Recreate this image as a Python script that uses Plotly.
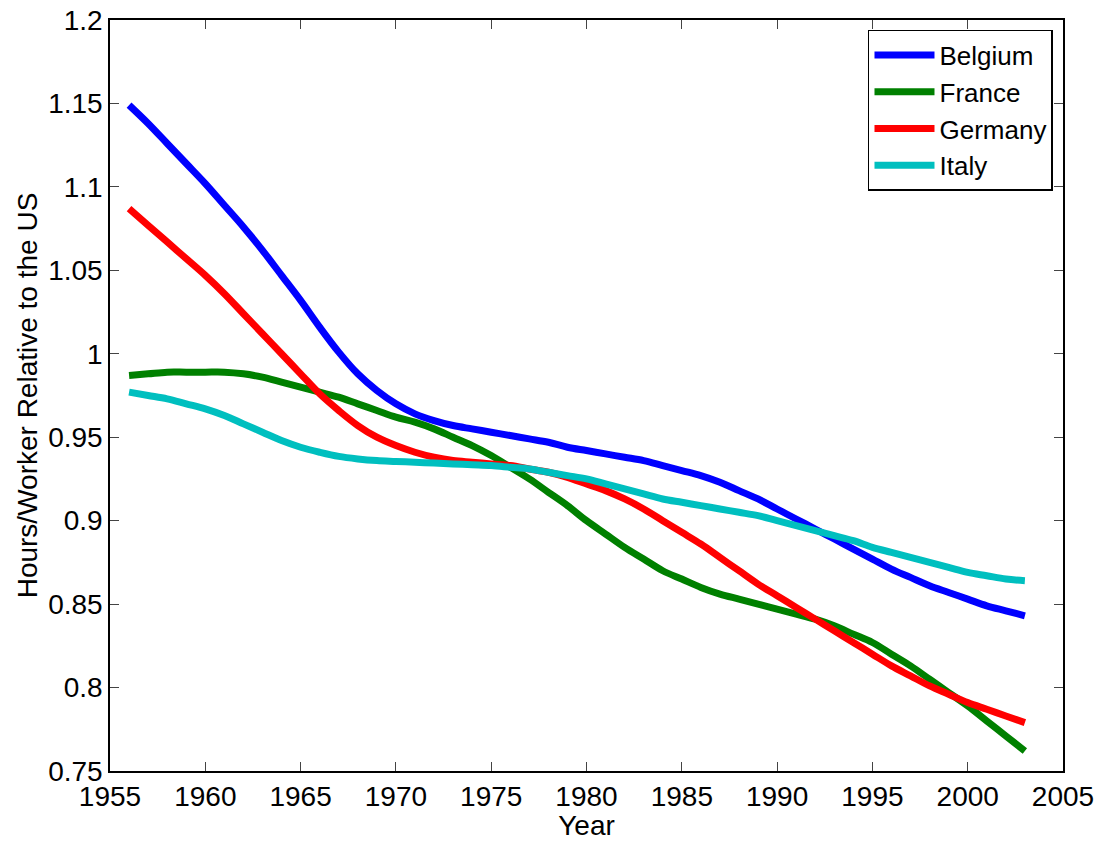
import plotly.graph_objects as go

years = list(range(1956, 2004))

belgium = [1.149, 1.138, 1.126, 1.114, 1.102, 1.089, 1.076, 1.062, 1.047, 1.032,
           1.016, 1.001, 0.988, 0.978, 0.970, 0.964, 0.960, 0.957, 0.955, 0.953,
           0.951, 0.949, 0.947, 0.944, 0.942, 0.940, 0.938, 0.936, 0.933, 0.930,
           0.927, 0.923, 0.918, 0.913, 0.907, 0.901, 0.895, 0.889, 0.883, 0.877,
           0.871, 0.866, 0.861, 0.857, 0.853, 0.849, 0.846, 0.843]

france = [0.987, 0.988, 0.989, 0.989, 0.989, 0.989, 0.988, 0.986, 0.983, 0.980,
          0.977, 0.974, 0.970, 0.966, 0.962, 0.959, 0.955, 0.950, 0.945, 0.939,
          0.932, 0.925, 0.917, 0.909, 0.900, 0.892, 0.884, 0.877, 0.870, 0.865,
          0.860, 0.856, 0.853, 0.850, 0.847, 0.844, 0.841, 0.837, 0.832, 0.827,
          0.820, 0.813, 0.805, 0.797, 0.789, 0.780, 0.771, 0.762]

germany = [1.087, 1.077, 1.067, 1.057, 1.047, 1.036, 1.024, 1.012, 1.000, 0.988,
           0.976, 0.966, 0.957, 0.950, 0.945, 0.941, 0.938, 0.936, 0.935, 0.934,
           0.933, 0.931, 0.929, 0.926, 0.922, 0.918, 0.913, 0.907, 0.900, 0.893,
           0.886, 0.878, 0.870, 0.862, 0.855, 0.848, 0.841, 0.834, 0.827, 0.820,
           0.813, 0.807, 0.801, 0.796, 0.791, 0.787, 0.783, 0.779]

italy = [0.977, 0.975, 0.973, 0.970, 0.967, 0.963, 0.958, 0.953, 0.948, 0.944,
         0.941, 0.9385, 0.937, 0.936, 0.9355, 0.935, 0.9345, 0.934, 0.9335, 0.933,
         0.932, 0.931, 0.929, 0.927, 0.925, 0.922, 0.919, 0.916, 0.913, 0.911,
         0.909, 0.907, 0.905, 0.903, 0.900, 0.897, 0.894, 0.891, 0.888, 0.884,
         0.881, 0.878, 0.875, 0.872, 0.869, 0.867, 0.865, 0.864]

series = [("Belgium", belgium, "#0000ff"),
          ("France", france, "#008000"),
          ("Germany", germany, "#ff0000"),
          ("Italy", italy, "#00bfbf")]

x_ticks = [1955, 1960, 1965, 1970, 1975, 1980, 1985, 1990, 1995, 2000, 2005]
y_ticks = [0.75, 0.8, 0.85, 0.9, 0.95, 1.0, 1.05, 1.1, 1.15, 1.2]
y_tick_text = ["0.75", "0.8", "0.85", "0.9", "0.95", "1", "1.05", "1.1", "1.15", "1.2"]

font_family = "Liberation Sans, Arial, sans-serif"
font_size = 28

fig = go.Figure()
for name, vals, color in series:
    fig.add_trace(go.Scatter(
        x=years, y=vals, name=name, mode="lines",
        line=dict(color=color, width=7, shape="spline", smoothing=1.0),
    ))

axis_common = dict(
    showline=True, linecolor="black", linewidth=1.5, mirror="ticks",
    ticks="inside", ticklen=9, tickcolor="#444", tickwidth=1,
    showgrid=False, zeroline=False, automargin=False,
    tickfont=dict(family=font_family, size=font_size, color="black"),
)

fig.update_layout(
    width=1100, height=841,
    margin=dict(l=110, r=37, t=20, b=70),
    paper_bgcolor="white", plot_bgcolor="white",
    font=dict(family=font_family, size=font_size, color="black"),
    xaxis=dict(range=[1955, 2005], tickvals=x_ticks,
               title=dict(text="Year", font=dict(size=font_size), standoff=6),
               **axis_common),
    yaxis=dict(range=[0.75, 1.2], tickvals=y_ticks, ticktext=y_tick_text,
               title=dict(text="Hours/Worker Relative to the US", font=dict(size=font_size), standoff=2),
               **axis_common),
    legend=dict(x=0.9895, y=0.9867, xanchor="right", yanchor="top",
                bgcolor="white", bordercolor="black", borderwidth=1.5,
                font=dict(family=font_family, size=26), itemwidth=60,
                entrywidth=125, tracegroupgap=0),
    showlegend=True,
)

fig.write_html("out.html")
